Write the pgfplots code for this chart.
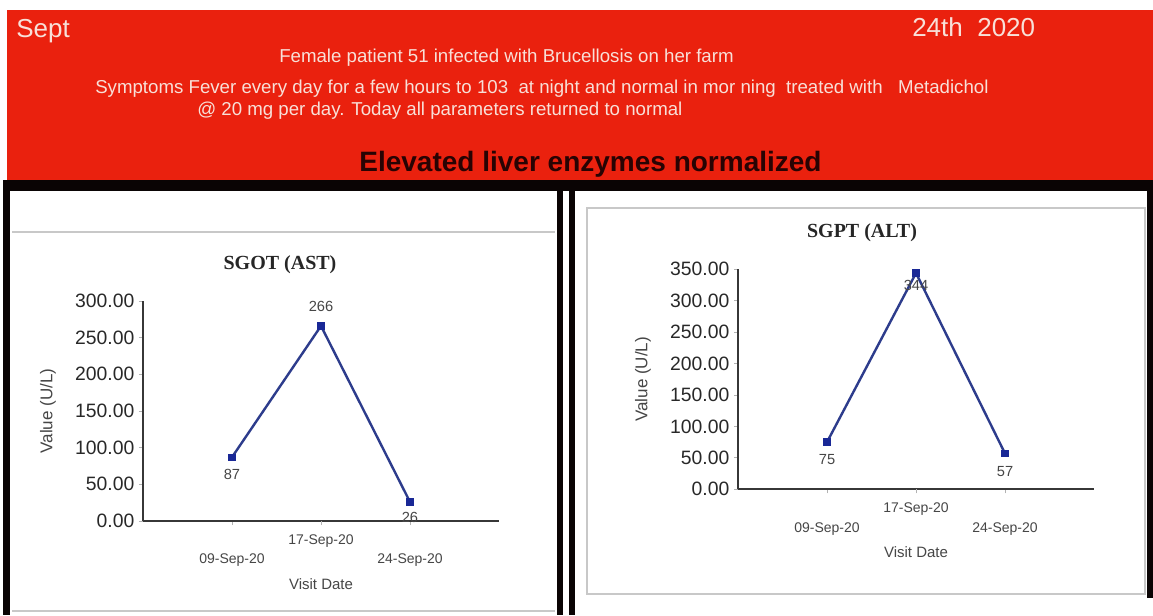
\documentclass[border=0pt]{standalone}
\usepackage{fontspec}
\setmainfont{Liberation Sans}
\newfontfamily\serifb{Liberation Serif}
\usepackage{pgfplots}
\pgfplotsset{compat=1.18}
\usepackage{pgfplotstable}

\definecolor{bannerred}{RGB}{234,33,14}
\definecolor{bannertext}{RGB}{248,224,216}
\definecolor{darkhead}{RGB}{40,3,3}
\definecolor{bandblack}{RGB}{10,4,4}
\definecolor{panelgray}{RGB}{200,200,200}
\definecolor{axisgray}{RGB}{55,55,55}
\definecolor{ticktext}{RGB}{40,40,40}
\definecolor{labelgray}{RGB}{70,70,70}
\definecolor{linenavy}{RGB}{45,60,140}
\definecolor{markblue}{RGB}{25,40,150}

\pgfplotstableread{
x y dy
0 87 -12.75
1 266 14.25
2 26 -12
}\sgot
\pgfplotstableread{
x y dy
0 75 -13
1 344 -9
2 57 -13.3
}\sgpt

\pgfplotsset{liver/.style={
  scale only axis, width=267pt, height=165pt, anchor=south west,
  xmin=-1, xmax=3, ymin=0,
  axis x line*=bottom, axis y line*=left,
  axis line style={draw=axisgray, line width=1.2pt},
  tick align=outside, major tick length=3pt,
  tick style={draw=gray!60, line width=0.6pt},
  xtick={0,2}, xticklabels={09-Sep-20,24-Sep-20},
  extra x ticks={1}, extra x tick labels={17-Sep-20},
  extra x tick style={grid=none, xticklabel style={yshift=14.5pt}},
  xticklabel style={anchor=center, yshift=-26.5pt, font=\fontsize{10.5}{12}\selectfont, text=labelgray},
  yticklabel style={font=\fontsize{14.5}{16}\selectfont, text=ticktext,
    /pgf/number format/.cd, fixed, fixed zerofill, precision=2},
  /pgf/number format/assume math mode=true,
  ylabel={Value (U/L)},
  ylabel style={at={(axis description cs:-0.267,0.5)}, anchor=center, font=\fontsize{12.75}{14}\selectfont, text=labelgray},
  xlabel={Visit Date},
  xlabel style={at={(axis description cs:0.5,-0.286)}, anchor=center, font=\fontsize{11.25}{13}\selectfont, text=labelgray},
  clip=false,
  visualization depends on={\thisrow{dy} \as \dy},
  nodes near coords,
  nodes near coords style={anchor=center, yshift=\dy pt, font=\fontsize{11}{13}\selectfont, text=labelgray},
}}

\begin{document}
\begin{tikzpicture}
\begin{scope}[x=0.75pt,y=0.75pt]
  % background
  \fill[white] (0,0) rectangle (1153,615);
  % red banner
  \fill[bannerred] (7,435) rectangle (1153,605);
  % black band and borders
  \fill[bandblack] (3,424) rectangle (1153,435);
  \fill[bandblack] (3,0) rectangle (10,435);
  \fill[bandblack] (557,0) rectangle (563,435);
  \fill[bandblack] (569,0) rectangle (575,435);
  \fill[bandblack] (1147,17) rectangle (1153,435);
  % panel gray lines
  \draw[panelgray, line width=1.2pt] (12,383) -- (555,383);
  \draw[panelgray, line width=1.2pt] (12,4) -- (555,4);
  \draw[panelgray, line width=1.2pt] (587,21) rectangle (1145,407);
  % banner text
  \node[anchor=base west, inner sep=0, text=bannertext, font=\fontsize{19.5}{22}\selectfont] at (16,577) {Sept};
  \node[anchor=base west, inner sep=0, text=bannertext, font=\fontsize{19.5}{22}\selectfont] at (912,578) {24th\ \ 2020};
  \node[anchor=base west, inner sep=0, text=bannertext, font=\fontsize{14}{16}\selectfont] at (279,552.3) {Female patient 51 infected with Brucellosis on her farm};
  \node[anchor=base west, inner sep=0, text=bannertext, font=\fontsize{14}{16}\selectfont] at (95,521.7) {Symptoms Fever every day for a few hours to 103\ \ at night and normal in mor ning\ \ treated with\ \ \ Metadichol};
  \node[anchor=base west, inner sep=0, text=bannertext, font=\fontsize{14}{16}\selectfont] at (197,499) {@ 20 mg per day. Today all parameters returned to normal};
  \node[anchor=base, inner sep=0, text=darkhead, font=\fontsize{21}{24}\selectfont\bfseries] at (590.5,443.3) {Elevated liver enzymes normalized};
  % chart titles
  \node[text=black!85, font=\serifb\bfseries\fontsize{15}{17}\selectfont] at (280,350) {SGOT (AST)};
  \node[text=black!85, font=\serifb\bfseries\fontsize{15}{17}\selectfont] at (862,382) {SGPT (ALT)};
\end{scope}

\begin{axis}[liver, at={(107.25pt,70.5pt)}, ymax=300, ytick={0,50,...,300}]
  \addplot[color=linenavy, line width=1.8pt, mark=square*, mark size=2.5pt,
    mark options={fill=markblue, draw=markblue, line width=0.5pt}] table[x=x, y=y] {\sgot};
\end{axis}

\begin{axis}[liver, at={(553.5pt,94.3pt)}, ymax=350, ytick={0,50,...,350}]
  \addplot[color=linenavy, line width=1.8pt, mark=square*, mark size=2.5pt,
    mark options={fill=markblue, draw=markblue, line width=0.5pt}] table[x=x, y=y] {\sgpt};
\end{axis}

\pgfresetboundingbox
\path (0,0) rectangle (864.75pt,461.25pt);
\end{tikzpicture}
\end{document}
